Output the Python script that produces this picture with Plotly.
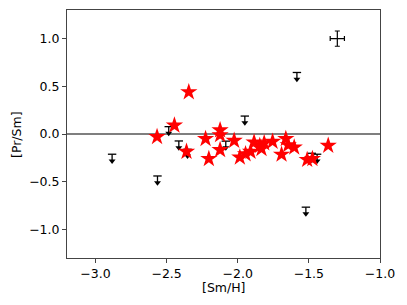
import plotly.graph_objects as go

# Detections (red stars)
star_x = [-2.567, -2.445, -2.344, -2.36, -2.226, -2.203, -2.124, -2.124, -2.124,
          -2.025, -1.985, -1.945, -1.91, -1.885, -1.845, -1.833, -1.814, -1.755,
          -1.692, -1.662, -1.645, -1.603, -1.512, -1.475, -1.364]
star_y = [-0.03, 0.09, 0.44, -0.185, -0.05, -0.26, 0.04, -0.01, -0.167,
          -0.07, -0.245, -0.21, -0.185, -0.087, -0.125, -0.155, -0.095, -0.08,
          -0.215, -0.05, -0.115, -0.14, -0.27, -0.26, -0.122]

# Upper limits (black arrows); value = top of the symbol
ul_x = [-2.883, -2.564, -2.485, -2.414, -2.353, -2.084, -1.95, -1.584, -1.521, -1.479, -1.442]
ul_y = [-0.212, -0.44, 0.077, -0.073, -0.16, -0.075, 0.188, 0.645, -0.767, -0.202, -0.212]

# Typical error bar
err_x, err_y = [-1.30], [1.0]
err_dx, err_dy = [0.05], [0.08]

stem = 0.07

fig = go.Figure()

# zero line
fig.add_hline(y=0, line=dict(color="black", width=1.2), layer="below")

# typical error
fig.add_trace(go.Scatter(
    x=err_x, y=err_y, mode="markers",
    marker=dict(size=1, color="black"),
    error_x=dict(type="data", array=err_dx, color="black", thickness=1.2, width=2.5),
    error_y=dict(type="data", array=err_dy, color="black", thickness=1.2, width=2.5),
    showlegend=False))

# upper-limit stems
sx, sy = [], []
for x, y in zip(ul_x, ul_y):
    sx += [x, x, None]
    sy += [y, y - stem, None]
fig.add_trace(go.Scatter(x=sx, y=sy, mode="lines",
                         line=dict(color="black", width=1.3), showlegend=False))
# caps
fig.add_trace(go.Scatter(x=ul_x, y=ul_y, mode="markers",
                         marker=dict(symbol="line-ew", size=6,
                                     line=dict(color="black", width=1.3)),
                         showlegend=False))
# arrow heads
fig.add_trace(go.Scatter(x=ul_x, y=[y - stem for y in ul_y], mode="markers",
                         marker=dict(symbol="triangle-down", size=6, color="black"),
                         showlegend=False))

# stars
fig.add_trace(go.Scatter(x=star_x, y=star_y, mode="markers",
                         marker=dict(symbol="star", size=13, color="red",
                                     line=dict(width=0)),
                         showlegend=False))

font = dict(family="DejaVu Sans", size=12.5, color="black")
axis_common = dict(showgrid=False, zeroline=False, showline=True, mirror=True,
                   linecolor="#444", linewidth=1, ticks="outside", ticklen=4,
                   tickcolor="#444", tickfont=font, automargin=False)

fig.update_xaxes(range=[-3.2, -1.0], tickvals=[-3.0, -2.5, -2.0, -1.5, -1.0],
                 ticktext=["−3.0", "−2.5", "−2.0", "−1.5", "−1.0"], **axis_common)
fig.update_yaxes(range=[-1.3, 1.3], tickvals=[-1.0, -0.5, 0.0, 0.5, 1.0],
                 ticktext=["−1.0", "−0.5", "0.0", "0.5", "1.0"], **axis_common)

fig.add_annotation(text="[Sm/H]", xref="paper", yref="paper", x=0.5, y=-0.12,
                   xanchor="center", yanchor="middle", showarrow=False, font=font)
fig.add_annotation(text="[Pr/Sm]", xref="paper", yref="paper", x=-0.163, y=0.5,
                   xanchor="center", yanchor="middle", showarrow=False, textangle=-90,
                   font=font)

fig.update_layout(width=399, height=297, margin=dict(l=59, r=27, t=2, b=47),
                  plot_bgcolor="white", paper_bgcolor="white")

fig.write_html("out.html")
